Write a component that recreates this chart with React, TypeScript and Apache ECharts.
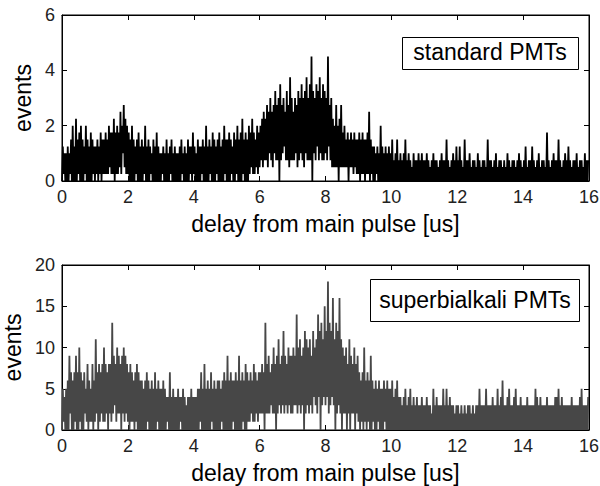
import React, { useEffect, useRef } from "react";
import * as echarts from "echarts";

// Histogram values, one string per microsecond (40 bins of 0.025 us each),
// each character is a base-36 digit.
// Top panel ("standard PMTs"): values in quarter-event units.
const topQuarterEvents: string[] = [
  "0514040504160805090617080605180605070615",
  "0516051706161716182717190718172a184b2918",
  "1706080605160705060518050605140605070504",
  "0415040604051604050404050614050406051507",
  "1504060505160508050615070605160705060816",
  "0607061507061806070916070608172917162817",
  "28392a393b2a4c3a2b4d3b3c0e3b4c5a3d3b2f3c",
  "3a3c4b2d3c4e3c2d4f3c3e3i0d4c3e5d3f4c3e3d",
  "4c3i5b3c29282b28092b27282627062726172616",
  "1706171606171a06150504150408050405040504",
  "0603040603040304060304030204030304030403",
  "0304030203040303020304030306030203040305",
  "0305030206030304020303020403020303020603",
  "0302030402030302030204030203030203040302",
  "0305020303050302030402030302070302030403",
  "0306030203040305030203030402030302040303",
];

// Bottom panel ("superbialkali PMTs"): values in events.
const bottomEvents: string[] = [
  "051405060927060719070a170607251806151806",
  "1b270817281a182708281d29381a2928092a1928",
  "1708171607180706060506071605060507051605",
  "0506050414070405040405041405040304040504",
  "0404050517050805060507150605060605160706",
  "0906070616070609060716080716172618172617",
  "2728270d282927382a28092b38293c29382a3929",
  "2a393e2a3b293a0c2b3a2b392c4a3b2e4c0d3b4f",
  "3c4i2d3c4g3b0d2c3g2b0a292a082b09282a0829",
  "1706170a16071609061506051605050615060505",
  "0604050604040304050304050304030403030403",
  "0304030302050304030303050305030403030203",
  "0302030203020303020302030305030303050303",
  "0304030305030406030304050303040503030403",
  "0303040303030305040304030303040303030304",
  "0405030403030303030403030303040503030304",
];

const xTicks = { min: 0, max: 16, interval: 2 };
const topYTicks = { min: 0, max: 6, interval: 2 };
const bottomYTicks = { min: 0, max: 20, interval: 5 };

const xTitle = "delay from main pulse [us]";
const yTitle = "events";
const topLegend = "standard PMTs";
const bottomLegend = "superbialkali PMTs";

function decode(segs: string[], scale: number): number[][] {
  const pts: number[][] = [];
  segs.forEach((s, k) => {
    for (let j = 0; j < s.length; j++) {
      pts.push([k + j / s.length, parseInt(s[j], 36) * scale]);
    }
  });
  return pts;
}

const FONT = "'Liberation Sans', Arial, Helvetica, sans-serif";

export default function App() {
  const ref = useRef<HTMLDivElement>(null);

  useEffect(() => {
    if (!ref.current) return;
    const chart = echarts.init(ref.current, undefined, { renderer: "svg" });

    const axisLine = { show: true, onZero: false, lineStyle: { color: "#000", width: 1 } };
    const axisTick = { show: true, inside: true, length: 5, lineStyle: { color: "#000", width: 1 } };
    const tickLabel = { fontSize: 18, color: "#222", fontFamily: FONT };
    const nameStyle = { fontSize: 23, color: "#000", fontFamily: FONT };

    const mkX = (grid: number, bottom: boolean) => ({
      gridIndex: grid,
      type: "value",
      ...xTicks,
      position: bottom ? "bottom" : "top",
      axisLine,
      axisTick,
      axisLabel: bottom ? { ...tickLabel, margin: 7 } : { show: false },
      splitLine: { show: false },
      ...(bottom
        ? { name: xTitle, nameLocation: "middle", nameGap: 31, nameTextStyle: nameStyle }
        : {}),
    });
    const mkY = (grid: number, ticks: any, left: boolean) => ({
      gridIndex: grid,
      type: "value",
      ...ticks,
      position: left ? "left" : "right",
      axisLine,
      axisTick,
      axisLabel: left ? { ...tickLabel, margin: 7 } : { show: false },
      splitLine: { show: false },
      ...(left
        ? { name: yTitle, nameLocation: "middle", nameGap: 24, nameTextStyle: nameStyle }
        : {}),
    });

    const gridBase = {
      left: 62,
      width: 527,
      show: true,
      borderColor: "#000",
      borderWidth: 1,
      backgroundColor: "#fff",
      containLabel: false,
      outerBoundsMode: "none",
    };

    const option: any = {
      animation: false,
      backgroundColor: "#fff",
      grid: [
        { ...gridBase, top: 15, height: 166 },
        { ...gridBase, top: 265, height: 165 },
      ],
      xAxis: [mkX(0, true), mkX(0, false), mkX(1, true), mkX(1, false)],
      yAxis: [
        mkY(0, topYTicks, true),
        mkY(0, topYTicks, false),
        mkY(1, bottomYTicks, true),
        mkY(1, bottomYTicks, false),
      ],
      series: [
        {
          type: "line",
          xAxisIndex: 0,
          yAxisIndex: 0,
          data: decode(topQuarterEvents, 0.25),
          symbol: "none",
          showSymbol: false,
          silent: true,
          clip: true,
          lineStyle: { width: 1.8, color: "#000", join: "bevel" },
        },
        {
          type: "line",
          xAxisIndex: 2,
          yAxisIndex: 2,
          data: decode(bottomEvents, 1),
          symbol: "none",
          showSymbol: false,
          silent: true,
          clip: true,
          lineStyle: { width: 1.8, color: "#474747", join: "bevel" },
        },
      ],
      graphic: [
        {
          type: "rect",
          z: 100,
          shape: { x: 402.5, y: 37.5, width: 176, height: 32 },
          style: { fill: "#fff", stroke: "#000", lineWidth: 1 },
        },
        {
          type: "text",
          z: 101,
          x: 490,
          y: 52,
          style: { text: topLegend, fontSize: 23, fontFamily: FONT, fill: "#000", align: "center", verticalAlign: "middle" },
        },
        {
          type: "rect",
          z: 100,
          shape: { x: 370.5, y: 279.5, width: 209, height: 42 },
          style: { fill: "#fff", stroke: "#000", lineWidth: 1 },
        },
        {
          type: "text",
          z: 101,
          x: 475,
          y: 300,
          style: { text: bottomLegend, fontSize: 23, fontFamily: FONT, fill: "#000", align: "center", verticalAlign: "middle" },
        },
      ],
    };

    chart.setOption(option);
    return () => chart.dispose();
  }, []);

  return (
    <div
      ref={ref}
      style={{ position: "absolute", left: 0, top: 0, width: 600, height: 486 }}
    />
  );
}
